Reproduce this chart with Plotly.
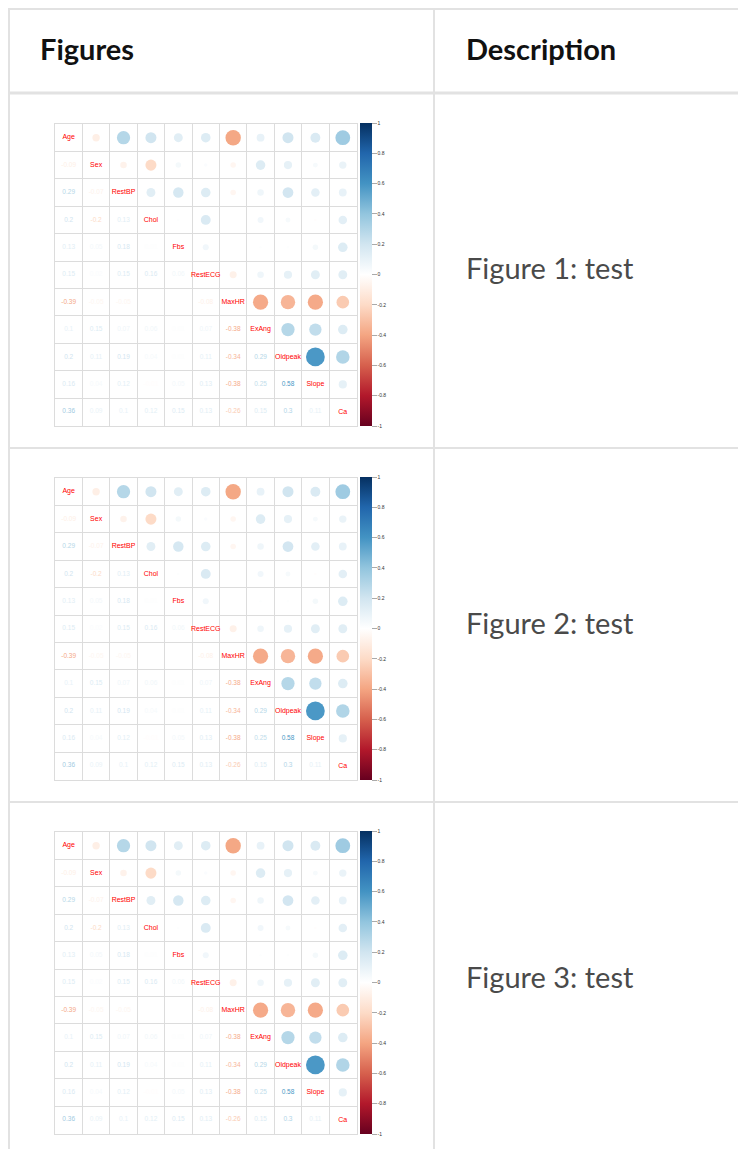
import numpy as np
import plotly.graph_objects as go
from plotly.colors import sample_colorscale

# ---------------- data ----------------
variables = ["Age", "Sex", "RestBP", "Chol", "Fbs", "RestECG", "MaxHR",
             "ExAng", "Oldpeak", "Slope", "Ca"]
r_Sex = [-0.09]
r_RestBP = [0.29, -0.07]
r_Chol = [0.2, -0.2, 0.13]
r_Fbs = [0.13, 0.05, 0.18, 0.01]
r_RestECG = [0.15, 0.02, 0.15, 0.16, 0.06]
r_MaxHR = [-0.39, -0.05, -0.05, 0.0, 0.0, -0.08]
r_ExAng = [0.1, 0.15, 0.07, 0.06, 0.01, 0.07, -0.38]
r_Oldpeak = [0.2, 0.11, 0.19, 0.04, 0.01, 0.11, -0.34, 0.29]
r_Slope = [0.16, 0.04, 0.12, -0.01, 0.05, 0.13, -0.38, 0.25, 0.58]
r_Ca = [0.36, 0.09, 0.1, 0.12, 0.15, 0.13, -0.26, 0.15, 0.3, 0.11]
lower_rows = [[], r_Sex, r_RestBP, r_Chol, r_Fbs, r_RestECG, r_MaxHR,
              r_ExAng, r_Oldpeak, r_Slope, r_Ca]

colorbar_ticks = [-1, -0.8, -0.6, -0.4, -0.2, 0, 0.2, 0.4, 0.6, 0.8, 1]
header_texts = ["Figures", "Description"]
descriptions = ["Figure 1: test", "Figure 2: test", "Figure 3: test"]

rdbu = ["#67001F", "#B2182B", "#D6604D", "#F4A582", "#FDDBC7", "#FFFFFF",
        "#D1E5F0", "#92C5DE", "#4393C3", "#2166AC", "#053061"]
colorscale = [[i / 10, c] for i, c in enumerate(rdbu)]

n = len(variables)
M = np.eye(n)
for i, row in enumerate(lower_rows):
    for j, v in enumerate(row):
        M[i, j] = v
        M[j, i] = v

# ---------------- page geometry ----------------
PAGE_W, PAGE_H = 746, 1149
BODY = 8  # default body margin of the html page
W, H = PAGE_W - BODY, PAGE_H - BODY
def px(x):
    return (x - BODY) / W
def py(y):
    return 1 - (y - BODY) / H

grid_left, grid_right = 55, 356.5
grid_top0, grid_size = 124, 301.5
cell = grid_size / n
offsets = [0, 354, 708]

fig = go.Figure()

up_x, up_y, up_v = [], [], []
lo_x, lo_y, lo_v = [], [], []
for i in range(n):
    for j in range(n):
        if j > i:
            up_x.append(j); up_y.append(i); up_v.append(M[i, j])
        elif j < i:
            lo_x.append(j); lo_y.append(i); lo_v.append(M[i, j])
up_v = np.array(up_v)
lo_v = np.array(lo_v)
sizes = 0.9 * np.sqrt(np.abs(up_v)) * cell
lo_colors = sample_colorscale(colorscale, list((lo_v + 1) / 2))
def fmt(v):
    s = f"{round(v, 2):g}"
    return "0" if s in ("-0", "0") else s
lo_text = [fmt(v) for v in lo_v]

for k, off in enumerate(offsets):
    suffix = "" if k == 0 else str(k + 1)
    xa, ya = "x" + suffix, "y" + suffix
    top = grid_top0 + off
    bottom = top + grid_size
    fig.add_trace(go.Scatter(
        x=up_x, y=up_y, mode="markers", xaxis=xa, yaxis=ya,
        marker=dict(size=sizes, color=up_v, colorscale=colorscale, cmin=-1, cmax=1,
                    line=dict(width=0), opacity=1,
                    showscale=True,
                    colorbar=dict(x=px(360), xanchor="left", y=py(top - 1), yanchor="top",
                                  len=grid_size + 1, lenmode="pixels", thickness=12,
                                  thicknessmode="pixels", outlinewidth=0, xpad=0, ypad=0,
                                  tickvals=colorbar_ticks,
                                  ticktext=[f"{t:g}" for t in colorbar_ticks],
                                  ticks="outside", ticklen=5, tickcolor="#aaaaaa",
                                  tickfont=dict(size=5, color="#333333",
                                                family="Liberation Sans"))),
        hoverinfo="skip", showlegend=False))
    fig.add_trace(go.Scatter(
        x=lo_x, y=lo_y, mode="text", text=lo_text, xaxis=xa, yaxis=ya,
        textfont=dict(size=6.5, color=lo_colors, family="Liberation Sans"),
        hoverinfo="skip", showlegend=False))
    fig.add_trace(go.Scatter(
        x=list(range(n)), y=list(range(n)), mode="text", text=variables,
        xaxis=xa, yaxis=ya,
        textfont=dict(size=7, color="#FF0000", family="Liberation Sans"),
        hoverinfo="skip", showlegend=False))
    bounds = [b - 0.5 for b in range(n + 1)]
    axis_common = dict(tickvals=bounds, showgrid=True, gridcolor="#dcdcdc", gridwidth=1,
                       showticklabels=False, ticks="", zeroline=False,
                       showline=True, linecolor="#dcdcdc", linewidth=1, mirror=True,
                       fixedrange=True)
    fig.update_layout(**{
        ("xaxis" + suffix): dict(domain=[px(grid_left), px(grid_right)],
                                 range=[-0.5, n - 0.5], anchor=ya, **axis_common),
        ("yaxis" + suffix): dict(domain=[py(bottom), py(top)],
                                 range=[n - 0.5, -0.5], anchor=xa, **axis_common),
    })

# ---------------- table frame ----------------
border = "#e2e2e2"
shapes = []
def hline(y, x0, x1, w=2):
    shapes.append(dict(type="line", xref="paper", yref="paper", x0=px(x0), x1=px(x1),
                       y0=py(y), y1=py(y), line=dict(color=border, width=w), layer="below"))
def vline(x, y0, y1, w=2):
    shapes.append(dict(type="line", xref="paper", yref="paper", x0=px(x), x1=px(x),
                       y0=py(y0), y1=py(y1), line=dict(color=border, width=w), layer="below"))
hline(9, 8, PAGE_W)
hline(93, 8, PAGE_W, 3)
hline(448, 8, PAGE_W)
hline(802, 8, PAGE_W)
vline(9, 8, PAGE_H)
vline(434, 8, PAGE_H)

annotations = []
for txt, x in zip(header_texts, [38, 464]):
    annotations.append(dict(text=f"<b>{txt}</b>", x=px(x), y=py(48), xref="paper", yref="paper",
                            xanchor="left", yanchor="middle", showarrow=False,
                            font=dict(family="Lato", size=29, color="#111111")))
for k, txt in enumerate(descriptions):
    annotations.append(dict(text=txt, x=px(464), y=py(268 + offsets[k]), xref="paper",
                            yref="paper", xanchor="left", yanchor="middle", showarrow=False,
                            font=dict(family="Lato", size=29, color="#4a4a4a")))

fig.update_layout(width=W, height=H, margin=dict(l=0, r=0, t=0, b=0),
                  paper_bgcolor="white", plot_bgcolor="white",
                  shapes=shapes, annotations=annotations, showlegend=False)

fig.write_html("out.html")
